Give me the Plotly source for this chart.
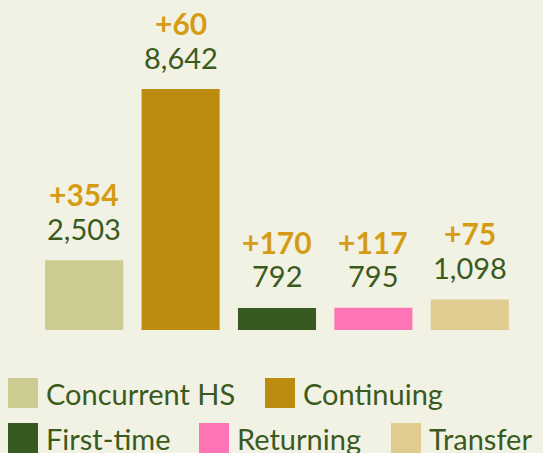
import plotly.graph_objects as go

categories = ["Concurrent HS", "Continuing", "First-time", "Returning", "Transfer"]
values = [2503, 8642, 792, 795, 1098]
changes = ["+354", "+60", "+170", "+117", "+75"]
colors = ["#cccc90", "#bd8b0f", "#385a21", "#ff74b4", "#e0cc8f"]

BG = "#f2f2e4"
GREEN = "#3a5a20"
GOLD = "#d49c14"
FONT = "Lato"

W, H = 543, 453
ML, MR, MT, MB = 36, 25, 89, 123
PW, PH = W - ML - MR, H - MT - MB


def px(x):
    return (x - ML) / PW


def py(y):
    return (H - MB - y) / PH


fig = go.Figure()
for c, v, col in zip(categories, values, colors):
    fig.add_trace(go.Bar(x=[c], y=[v], name=c, marker_color=col,
                         marker_line_width=0, showlegend=False, hoverinfo="x+y"))

for c, v, ch in zip(categories, values, changes):
    fig.add_annotation(x=c, y=v, text=f"{v:,}", showarrow=False,
                       yanchor="middle", yshift=32,
                       font=dict(family=FONT, size=29, color=GREEN))
    fig.add_annotation(x=c, y=v, text=f"<b>{ch}</b>", showarrow=False,
                       yanchor="middle", yshift=66,
                       font=dict(family=FONT, size=30, color=GOLD))

# custom legend (swatch left pixel, row centre pixel)
legend_pos = [(8, 393), (265, 393), (8, 438), (199, 438), (391, 438)]
for c, col, (lx, ly) in zip(categories, colors, legend_pos):
    fig.add_shape(type="rect", xref="paper", yref="paper",
                  x0=px(lx), x1=px(lx + 30), y0=py(ly - 15), y1=py(ly + 15),
                  fillcolor=col, line=dict(width=0), layer="above")
    fig.add_annotation(xref="paper", yref="paper", x=px(lx + 36), y=py(ly),
                       text=c, showarrow=False, xanchor="left", yanchor="middle",
                       font=dict(family=FONT, size=29, color=GREEN))

fig.update_layout(
    width=W, height=H,
    margin=dict(l=ML, r=MR, t=MT, b=MB, autoexpand=False),
    paper_bgcolor=BG, plot_bgcolor=BG,
    barmode="overlay",
    bargap=0.19,
    xaxis=dict(visible=False, categoryorder="array", categoryarray=categories),
    yaxis=dict(visible=False, range=[0, 8642]),
    showlegend=False,
)
fig.write_html("out.html", config={"displayModeBar": False},
               post_script="document.body.style.margin='0';document.body.style.background='%s';" % BG)
